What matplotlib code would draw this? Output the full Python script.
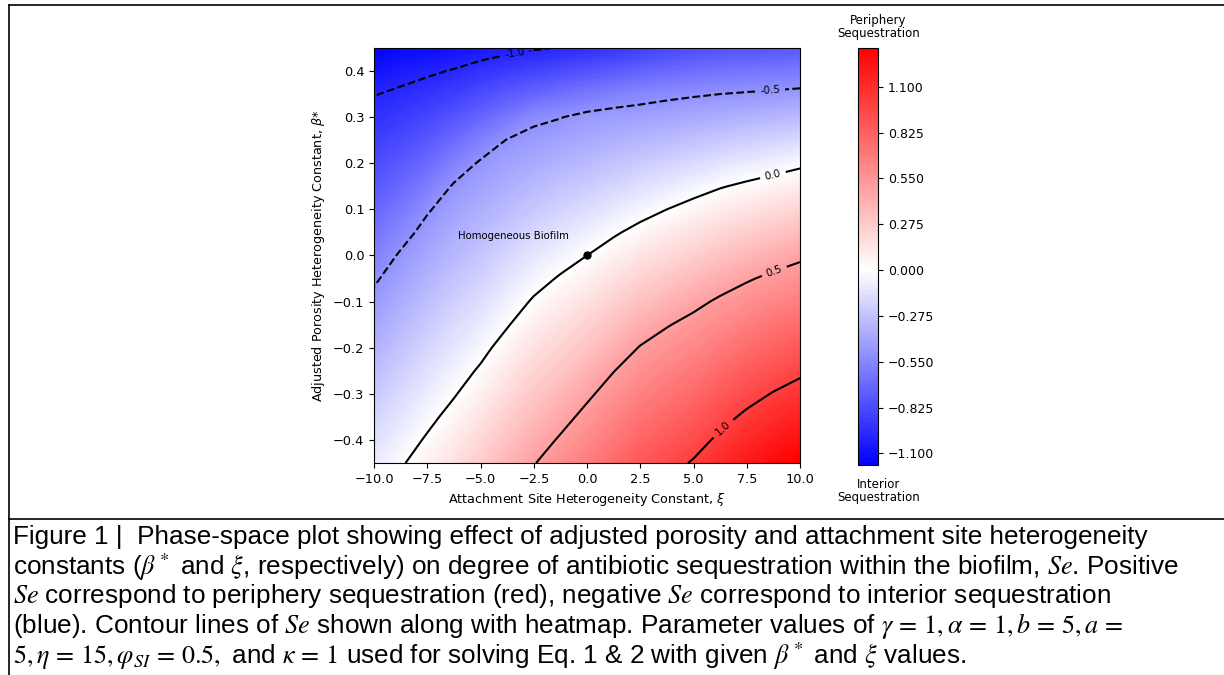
import numpy as np
import matplotlib
matplotlib.use("Agg")
import matplotlib.pyplot as plt
from matplotlib.colors import TwoSlopeNorm
from matplotlib.lines import Line2D

xi = [-10.0, -8.75, -7.5, -6.25, -5.0, -3.75, -2.5, -1.25, 0.0,
      1.25, 2.5, 3.75, 5.0, 6.25, 7.5, 8.75, 10.0]
beta = [-0.45, -0.40, -0.35, -0.30, -0.25, -0.20, -0.15, -0.10, -0.05, 0.0,
        0.05, 0.10, 0.15, 0.20, 0.25, 0.30, 0.35, 0.40, 0.45]
se = [
    [-0.095, -0.016, 0.072, 0.161, 0.269, 0.382, 0.492, 0.587, 0.678, 0.777, 0.871, 0.943, 1.015, 1.112, 1.201, 1.279, 1.333],
    [-0.148, -0.068, 0.017, 0.104, 0.205, 0.317, 0.424, 0.518, 0.611, 0.707, 0.799, 0.868, 0.938, 1.032, 1.116, 1.189, 1.250],
    [-0.200, -0.120, -0.037, 0.046, 0.141, 0.251, 0.356, 0.447, 0.543, 0.637, 0.726, 0.793, 0.859, 0.949, 1.031, 1.099, 1.157],
    [-0.253, -0.172, -0.089, -0.011, 0.077, 0.186, 0.288, 0.375, 0.472, 0.567, 0.654, 0.718, 0.781, 0.864, 0.942, 1.009, 1.065],
    [-0.306, -0.224, -0.142, -0.063, 0.018, 0.120, 0.220, 0.303, 0.393, 0.496, 0.581, 0.643, 0.703, 0.780, 0.851, 0.914, 0.970],
    [-0.359, -0.276, -0.194, -0.116, -0.040, 0.055, 0.152, 0.231, 0.314, 0.411, 0.509, 0.568, 0.625, 0.695, 0.760, 0.819, 0.871],
    [-0.411, -0.328, -0.246, -0.169, -0.099, -0.010, 0.084, 0.159, 0.236, 0.325, 0.418, 0.490, 0.547, 0.610, 0.669, 0.724, 0.773],
    [-0.464, -0.380, -0.299, -0.222, -0.154, -0.070, 0.016, 0.086, 0.157, 0.240, 0.324, 0.392, 0.459, 0.525, 0.578, 0.629, 0.674],
    [-0.519, -0.432, -0.351, -0.275, -0.209, -0.131, -0.051, 0.014, 0.079, 0.154, 0.230, 0.294, 0.357, 0.424, 0.484, 0.534, 0.575],
    [-0.580, -0.484, -0.404, -0.328, -0.264, -0.191, -0.119, -0.058, 0.000, 0.068, 0.137, 0.196, 0.255, 0.316, 0.370, 0.423, 0.470],
    [-0.641, -0.550, -0.456, -0.381, -0.319, -0.252, -0.187, -0.132, -0.079, -0.018, 0.043, 0.098, 0.153, 0.208, 0.256, 0.303, 0.347],
    [-0.702, -0.621, -0.514, -0.433, -0.374, -0.312, -0.254, -0.205, -0.158, -0.105, -0.052, 0.000, 0.051, 0.100, 0.142, 0.183, 0.223],
    [-0.763, -0.691, -0.598, -0.486, -0.429, -0.373, -0.322, -0.278, -0.237, -0.192, -0.147, -0.104, -0.057, -0.010, 0.027, 0.063, 0.099],
    [-0.824, -0.762, -0.682, -0.576, -0.484, -0.433, -0.389, -0.351, -0.316, -0.280, -0.243, -0.208, -0.170, -0.132, -0.098, -0.066, -0.029],
    [-0.884, -0.833, -0.767, -0.680, -0.584, -0.494, -0.457, -0.424, -0.396, -0.367, -0.339, -0.313, -0.284, -0.255, -0.228, -0.202, -0.173],
    [-0.945, -0.904, -0.851, -0.783, -0.704, -0.624, -0.530, -0.505, -0.465, -0.445, -0.435, -0.417, -0.398, -0.377, -0.357, -0.339, -0.318],
    [-1.006, -0.975, -0.936, -0.886, -0.825, -0.762, -0.709, -0.660, -0.618, -0.584, -0.554, -0.532, -0.515, -0.500, -0.487, -0.475, -0.462],
    [-1.089, -1.051, -1.023, -0.990, -0.945, -0.901, -0.862, -0.827, -0.792, -0.757, -0.722, -0.691, -0.668, -0.650, -0.637, -0.626, -0.615],
    [-1.170, -1.131, -1.118, -1.099, -1.068, -1.041, -1.016, -0.993, -0.965, -0.930, -0.890, -0.850, -0.820, -0.800, -0.790, -0.780, -0.770],
]
contour_levels = [-1.0, -0.5, 0.0, 0.5, 1.0]
cbar_ticks = [-1.1, -0.825, -0.55, -0.275, 0.0, 0.275, 0.55, 0.825, 1.1]

caption = [
    r"Figure 1 |  Phase-space plot showing effect of adjusted porosity and attachment site heterogeneity",
    r"constants ($\beta^*$ and $\xi$, respectively) on degree of antibiotic sequestration within the biofilm, $Se$. Positive",
    r"$Se$ correspond to periphery sequestration (red), negative $Se$ correspond to interior sequestration",
    r"(blue). Contour lines of $Se$ shown along with heatmap. Parameter values of $\gamma\,=\,1, \alpha\,=\,1, b\,=\,5, a\,=$",
    r"$5, \eta\,=\,15, \varphi_{SI}\,=\,0.5,$ and $\kappa\,=\,1$ used for solving Eq. 1 & 2 with given $\beta^*$ and $\xi$ values.",
]

X, Y = np.meshgrid(xi, beta)
Z = np.array(se)

fig = plt.figure(figsize=(12.24, 6.75), dpi=100)
ax = fig.add_axes([0.3056, 0.314, 0.348, 0.615])
cax = fig.add_axes([0.701, 0.311, 0.0163, 0.618])

norm = TwoSlopeNorm(vcenter=0.0, vmin=Z.min(), vmax=Z.max())
cf = ax.contourf(X, Y, Z, levels=np.linspace(Z.min(), Z.max(), 200),
                 cmap="bwr", norm=norm)
cs = ax.contour(X, Y, Z, levels=contour_levels, colors="k", linewidths=1.5)
ax.clabel(cs, fmt="%1.1f", fontsize=7.5, inline=True,
          manual=[(-3.4, 0.437), (8.6, 0.355), (8.7, 0.18), (8.8, -0.035), (6.3, -0.37)])

ax.plot([0], [0], "o", color="k", markersize=5)
ax.text(-3.45, 0.043, "Homogeneous Biofilm", ha="center", va="center", fontsize=7.3)

ax.set_xlim(-10, 10)
ax.set_ylim(-0.45, 0.45)
ax.set_xticks(np.arange(-10, 10.1, 2.5))
ax.set_yticks(np.round(np.arange(-0.4, 0.41, 0.1), 1))
ax.tick_params(labelsize=9.3)
ax.set_xlabel(r"Attachment Site Heterogeneity Constant, $\xi$", fontsize=9.2)
ax.set_ylabel(r"Adjusted Porosity Heterogeneity Constant, $\beta$*", fontsize=9.2)

cb = fig.colorbar(cf, cax=cax, ticks=cbar_ticks)
cb.ax.set_yticklabels(["%.3f" % t if t >= 0 else "\u2212%.3f" % -t for t in cbar_ticks])
cb.ax.tick_params(labelsize=9)
fig.text(0.7178, 0.96, "Periphery\nSequestration", ha="center", va="center",
         fontsize=8.5, linespacing=1.0)
fig.text(0.7178, 0.2733, "Interior\nSequestration", ha="center", va="center",
         fontsize=8.5, linespacing=1.0)

# document frame
W, H = 1224.0, 675.0
fig.add_artist(Line2D([9 / W, 1], [1 - 5 / H, 1 - 5 / H], color="k", lw=1.2))
fig.add_artist(Line2D([9 / W, 9 / W], [0, 1 - 5 / H], color="k", lw=1.2))
fig.add_artist(Line2D([9 / W, 1], [1 - 519 / H, 1 - 519 / H], color="k", lw=1.2))

for i, line in enumerate(caption):
    fig.text(13 / W, 1 - (537 + i * 29.7) / H, line, ha="left", va="center",
             fontsize=18.85, family="Liberation Sans", math_fontfamily="stix")

fig.savefig("out.png", dpi=100)
